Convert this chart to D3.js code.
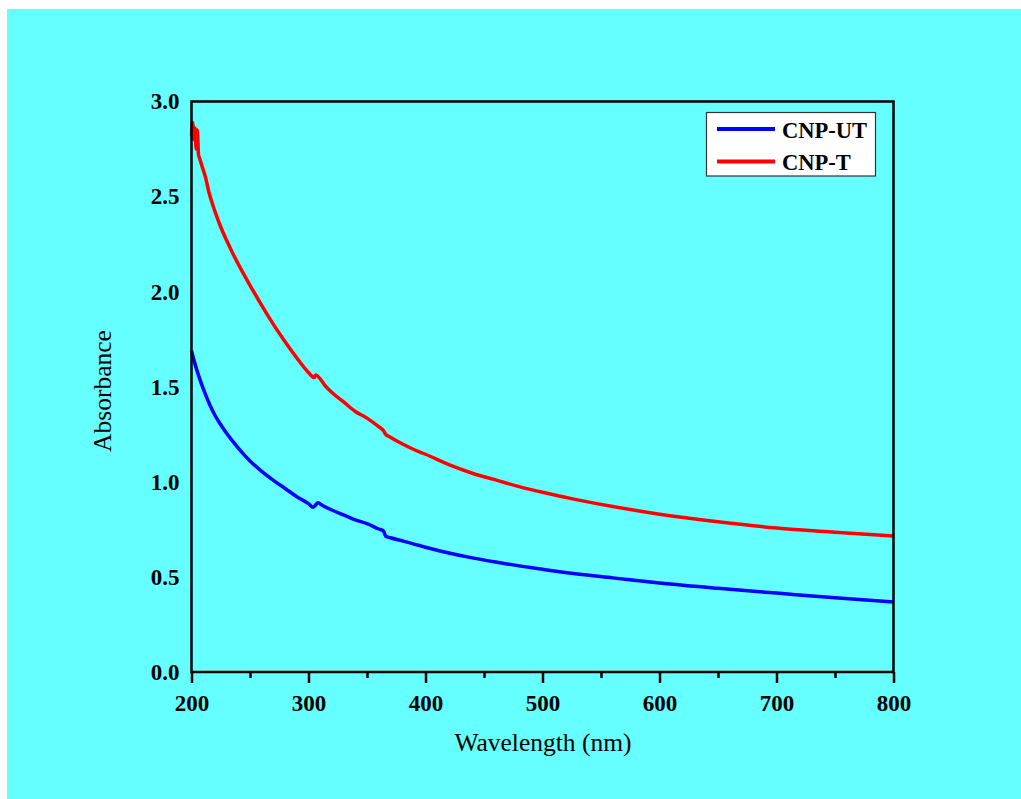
<!DOCTYPE html>
<html>
<head>
<meta charset="utf-8">
<script src="https://cdn.jsdelivr.net/npm/d3@7/dist/d3.min.js"></script>
<style>
  html, body { margin: 0; padding: 0; background: #ffffff; }
  svg { display: block; }
</style>
</head>
<body>
<svg id="chart" width="1021" height="799"></svg>
<script>
// ---- Data ----
const seriesNames = ["CNP-UT", "CNP-T"];
const seriesColors = ["#0000ff", "#ff0000"];

const utWavelength = [200, 203, 206, 210, 216, 220, 225, 230, 235, 240, 245, 250, 260, 270, 280, 290, 300, 304, 306, 308, 312, 320, 330, 340, 350, 360, 364, 366, 370, 380, 395, 400, 420, 440, 460, 480, 500, 530, 560, 600, 650, 700, 750, 800];
const utAbsorbance = [1.69, 1.62, 1.56, 1.49, 1.40, 1.35, 1.30, 1.255, 1.215, 1.177, 1.142, 1.11, 1.055, 1.008, 0.965, 0.922, 0.885, 0.866, 0.878, 0.89, 0.876, 0.852, 0.826, 0.80, 0.78, 0.752, 0.742, 0.714, 0.706, 0.69, 0.665, 0.656, 0.626, 0.60, 0.578, 0.558, 0.54, 0.515, 0.495, 0.468, 0.44, 0.415, 0.39, 0.368];

const tWavelength = [200, 201, 202, 203, 204, 205, 206, 207, 209, 212, 215, 218, 221, 225, 230, 235, 240, 245, 250, 260, 270, 280, 290, 300, 305, 306, 308, 315, 320, 330, 340, 350, 360, 364, 366, 370, 380, 390, 400, 420, 440, 460, 480, 500, 530, 560, 600, 650, 700, 750, 800];
const tAbsorbance = [2.82, 2.89, 2.80, 2.86, 2.75, 2.85, 2.72, 2.70, 2.66, 2.60, 2.52, 2.46, 2.405, 2.34, 2.27, 2.205, 2.145, 2.088, 2.033, 1.928, 1.828, 1.737, 1.652, 1.575, 1.548, 1.562, 1.555, 1.50, 1.47, 1.42, 1.37, 1.335, 1.29, 1.27, 1.25, 1.235, 1.20, 1.17, 1.145, 1.09, 1.045, 1.01, 0.975, 0.945, 0.905, 0.87, 0.83, 0.79, 0.757, 0.735, 0.715];

const xTicks = [200, 300, 400, 500, 600, 700, 800];
const xMinorTicks = [250, 350, 450, 550, 650, 750];
const yTicks = [0.0, 0.5, 1.0, 1.5, 2.0, 2.5, 3.0];

const xTitle = "Wavelength (nm)";
const yTitle = "Absorbance";

// ---- Drawing ----
const svg = d3.select("#chart");
const serif = "'Liberation Serif', 'Times New Roman', serif";

svg.append("rect")
  .attr("x", 7).attr("y", 9).attr("width", 1014).attr("height", 790)
  .attr("fill", "#66ffff");

const x = d3.scaleLinear().domain([200, 800]).range([191.5, 893.5]);
const y = d3.scaleLinear().domain([0, 3]).range([672, 101.5]);

// data lines
const series = [
  { name: seriesNames[0], color: seriesColors[0], xs: utWavelength, ys: utAbsorbance },
  { name: seriesNames[1], color: seriesColors[1], xs: tWavelength, ys: tAbsorbance }
];
const line = d3.line().x(d => x(d[0])).y(d => y(d[1])).curve(d3.curveMonotoneX);
series.forEach(s => {
  const pts = s.xs.map((v, i) => [v, s.ys[i]]);
  svg.append("path")
    .datum(pts)
    .attr("d", line)
    .attr("fill", "none")
    .attr("stroke", s.color)
    .attr("stroke-width", 3.5)
    .attr("stroke-linejoin", "round");
});

// frame
const frame = svg.append("g").attr("stroke", "#000").attr("stroke-width", 2.5).attr("fill", "none");
frame.append("rect")
  .attr("x", x(200)).attr("y", y(3))
  .attr("width", x(800) - x(200)).attr("height", y(0) - y(3));

// x axis
const xAxis = d3.axisBottom(x).tickValues(xTicks).tickSize(11).tickPadding(12).tickFormat(d3.format("d"));
const gx = svg.append("g").attr("transform", `translate(0,${y(0)})`).call(xAxis);
gx.select(".domain").remove();
gx.selectAll(".tick line").attr("stroke", "#000").attr("stroke-width", 2.5);
gx.selectAll(".tick text")
  .attr("font-family", serif).attr("font-size", 23).attr("font-weight", "bold").attr("fill", "#000");

const xMinor = d3.axisBottom(x).tickValues(xMinorTicks).tickSize(6).tickFormat("");
const gxm = svg.append("g").attr("transform", `translate(0,${y(0)})`).call(xMinor);
gxm.select(".domain").remove();
gxm.selectAll(".tick line").attr("stroke", "#000").attr("stroke-width", 2.5);

// y axis (labels only, no ticks)
const yAxis = d3.axisLeft(y).tickValues(yTicks).tickSize(0).tickPadding(12).tickFormat(d3.format(".1f"));
const gy = svg.append("g").attr("transform", `translate(${x(200)},0)`).call(yAxis);
gy.select(".domain").remove();
gy.selectAll(".tick text")
  .attr("font-family", serif).attr("font-size", 23).attr("font-weight", "bold").attr("fill", "#000");

// axis titles
svg.append("text")
  .attr("x", 543).attr("y", 751)
  .attr("text-anchor", "middle")
  .attr("font-family", serif).attr("font-size", 25.5).attr("fill", "#000")
  .text(xTitle);

svg.append("text")
  .attr("transform", "translate(111,391) rotate(-90)")
  .attr("text-anchor", "middle")
  .attr("font-family", serif).attr("font-size", 25.5).attr("fill", "#000")
  .text(yTitle);

// legend
const legend = svg.append("g");
legend.append("rect")
  .attr("x", 706.5).attr("y", 112.5).attr("width", 169).attr("height", 63.5)
  .attr("fill", "#ffffff").attr("stroke", "#333").attr("stroke-width", 1.2);
const legendY = [129, 161.5];
series.forEach((s, i) => {
  legend.append("line")
    .attr("x1", 717).attr("x2", 775)
    .attr("y1", legendY[i]).attr("y2", legendY[i])
    .attr("stroke", s.color).attr("stroke-width", 4);
  legend.append("text")
    .attr("x", 782).attr("y", legendY[i] + 8.5)
    .attr("font-family", serif).attr("font-size", 22.5).attr("font-weight", "bold").attr("fill", "#000")
    .text(s.name);
});
</script>
</body>
</html>
